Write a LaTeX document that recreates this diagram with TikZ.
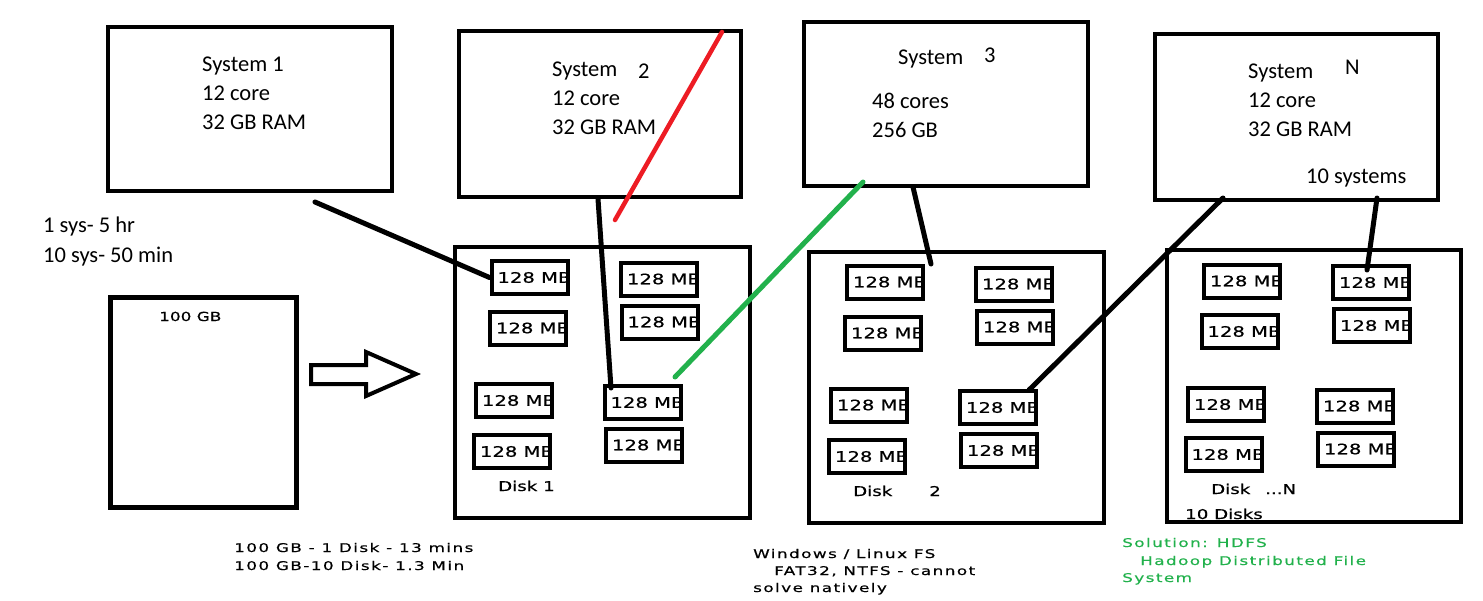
\documentclass[tikz,border=0pt]{standalone}
\usepackage{fontspec}
\setmainfont{Carlito}
\newfontfamily\blkfont{DejaVu Sans}[FakeStretch=1.35,FakeBold=0.6]
\newfontfamily\pxfont{DejaVu Sans}[FakeStretch=1.4,LetterSpace=12,FakeBold=0.5]
\definecolor{pred}{HTML}{ED1C24}
\definecolor{pgreen}{HTML}{22B14C}
\newcommand\rbox[6]{\node[#1, minimum width={(#5-#3)*1pt}, minimum height={(#6-#4)*1pt}] (#2) at ({(#3+#5)/2},{(#4+#6)/2}) {};}
\newcommand\mblk[3]{\node[blk] (#1) at (#2,#3) {};}
\begin{document}
\begin{tikzpicture}[x=1pt,y=-1pt,
  sysbox/.style={draw, line width=4.5pt, inner sep=0},
  diskbox/.style={draw, line width=3.5pt, inner sep=0},
  blk/.style={draw, line width=4pt, inner sep=0, minimum width=76pt, minimum height=33pt,
    path picture={\node[anchor=west, inner sep=0, font={\blkfont\fontsize{14.5}{17}\selectfont}] at ([xshift=3pt]path picture bounding box.west) {128 MB};}},
  big/.style={font={\fontsize{22.5}{27}\selectfont}, inner sep=0, anchor=base west},
  small/.style={font={\pxfont\fontsize{12}{14}\selectfont}, inner sep=0, anchor=base west},
  dlab/.style={font={\blkfont\fontsize{13.5}{15}\selectfont}, inner sep=0, anchor=base west},
  link/.style={line width=5pt, line cap=round},
]
\useasboundingbox (0,0) rectangle (1483,600);
% systems
\rbox{sysbox}{s1}{108}{27}{392}{191}
\rbox{sysbox}{s2}{459}{31}{741}{197}
\rbox{sysbox}{s3}{804}{22}{1088}{186}
\rbox{sysbox}{sn}{1155}{34}{1438}{200}
% disks
\rbox{diskbox}{d1}{455}{247}{750}{518}
\rbox{diskbox}{d2}{809}{252}{1104}{523}
\rbox{diskbox}{dn}{1167}{250}{1461}{522}
\rbox{sysbox}{file}{110.5}{297.5}{296.5}{507.5}
% system texts
\node[big] (s1t1) at (202,71) {System 1};
\node[big] (s1t2) at (202,100) {12 core};
\node[big] (s1t3) at (202,129) {32 GB RAM};
\node[big] (s2t1) at (552,76) {System};
\node[big] (s2n) at (638,78) {2};
\node[big] (s2t2) at (552,105) {12 core};
\node[big] (s2t3) at (552,134) {32 GB RAM};
\node[big] (s3t1) at (898,64) {System};
\node[big] (s3n) at (984,62) {3};
\node[big] (s3t2) at (872,108) {48 cores};
\node[big] (s3t3) at (872,137) {256 GB};
\node[big] (snt1) at (1248,78) {System};
\node[big] (snn) at (1345,74) {N};
\node[big] (snt2) at (1248,107) {12 core};
\node[big] (snt3) at (1248,136) {32 GB RAM};
\node[big] (snt4) at (1306,183) {10 systems};
\node[big] (t1) at (43,232) {1 sys- 5 hr};
\node[big] (t2) at (43,262) {10 sys- 50 min};
% blocks disk 1
\mblk{d1a}{529.5}{277.5}
\mblk{d1b}{528}{328}
\mblk{d1c}{659}{279}
\mblk{d1d}{659.5}{322}
\mblk{d1e}{514}{400.5}
\mblk{d1f}{512}{451.5}
\mblk{d1g}{642.5}{402.5}
\mblk{d1h}{644}{445}
% blocks disk 2
\mblk{d2a}{885}{282}
\mblk{d2b}{883}{333}
\mblk{d2c}{1014}{284}
\mblk{d2d}{1015}{327}
\mblk{d2e}{869}{405}
\mblk{d2f}{867}{456.5}
\mblk{d2g}{998}{407.5}
\mblk{d2h}{999}{450.5}
% blocks disk N
\mblk{dna}{1242}{281}
\mblk{dnb}{1239.5}{331.5}
\mblk{dnc}{1371}{282.5}
\mblk{dnd}{1372}{325.5}
\mblk{dne}{1226}{404.5}
\mblk{dnf}{1223.5}{454.5}
\mblk{dng}{1355}{406}
\mblk{dnh}{1356}{449}
% disk labels
\node[dlab] (l1) at (498,491) {Disk 1};
\node[dlab] (l2a) at (853,496) {Disk};
\node[dlab] (l2b) at (929,496) {2};
\node[dlab] (l3a) at (1211,494) {Disk};
\node[dlab] (l3b) at (1265,494) {...N};
\node[dlab] (l3c) at (1185,519) {10 Disks};
\node[font={\blkfont\fontsize{12.5}{14}\selectfont}, inner sep=0, anchor=base west] (fl) at (159,321) {100 GB};
% bottom texts
\node[small] (b1) at (234,552) {100 GB - 1 Disk - 13 mins};
\node[small] (b2) at (234,570) {100 GB-10 Disk- 1.3 Min};
\node[small] (w1) at (753,558) {Windows / Linux FS};
\node[small] (w2) at (774,575) {FAT32, NTFS - cannot};
\node[small] (w3) at (753,592) {solve natively};
\node[small, pgreen] (g1) at (1122,547) {Solution: HDFS};
\node[small, pgreen] (g2) at (1140,565) {Hadoop Distributed File};
\node[small, pgreen] (g3) at (1122,582) {System};
% hollow arrow
\draw[line width=4pt, line join=miter] (311,365) -- (366,365) -- (366,352) -- (416,374) -- (366,396) -- (366,384) -- (311,384) -- cycle;
% connector end points
\coordinate (c1) at (315,202);
\coordinate (c2) at (598,199);
\coordinate (c2e) at (611,388);
\coordinate (r1) at (722,32);
\coordinate (r2) at (615,220);
\coordinate (g3s) at (863,182);
\coordinate (g3e) at (675,377);
\coordinate (c3) at (913,187);
\coordinate (c3e) at (931,264);
\coordinate (cn1) at (1223,198);
\coordinate (cn1e) at (1029,390);
\coordinate (cn2) at (1377,198);
\coordinate (cn2e) at (1367,270);
\draw[link] (c1) -- (d1a.west);
\draw[link] (c2) -- (c2e);
\draw[link, pred, line width=4.5pt] (r1) -- (r2);
\draw[link, pgreen] (g3s) -- (g3e);
\draw[link] (c3) -- (c3e);
\draw[link] (cn1) -- (cn1e);
\draw[link] (cn2) -- (cn2e);
\end{tikzpicture}
\end{document}
